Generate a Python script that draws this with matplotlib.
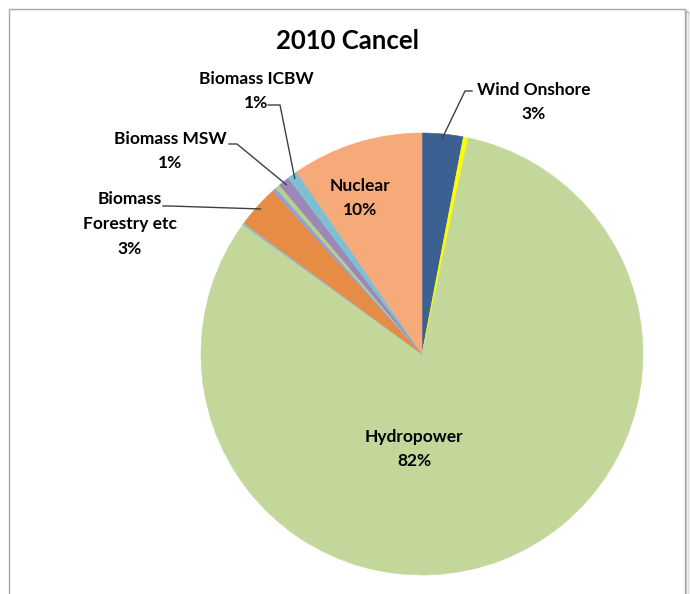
"""
2010 Cancel scenario: electricity generation mix as a pie chart.
"""

# %%
import matplotlib.pyplot as plt
from matplotlib.patches import Rectangle
import numpy as np


# %% generation shares (%), clockwise from 12 o'clock
sources = ['Wind Onshore', 'Solar PV', 'Hydropower', 'Wave & Tidal',
           'Biomass Forestry etc', 'Landfill Gas', 'Sewage Gas',
           'Biomass MSW', 'Biomass ICBW', 'Nuclear']
shares = [3.0, 0.35, 81.6, 0.15, 3.1, 0.3, 0.35, 0.8, 0.75, 9.6]
colours = ['#3a6192', '#ffff00', '#c4d79b', '#93b9c8', '#e68c44',
           '#8ea2d6', '#b9cf8e', '#9d87b6', '#7dbfd3', '#f6aa7a']

title = '2010 Cancel'
W, H = 690, 594
cx, cy, R = 422, 240, 221   # pie centre / radius in pixel units (y from bottom)


# %% figure, frame and shadow
fig = plt.figure(figsize=(W / 100, H / 100), dpi=100)
ax = fig.add_axes([0, 0, 1, 1])

for k, a in enumerate([0.30, 0.20, 0.12, 0.06]):
  ax.add_patch(Rectangle((10 + k, -10), 676 + k, 594 - k, facecolor='none',
                         edgecolor='#555555', linewidth=1.0, alpha=a, zorder=0))
ax.add_patch(Rectangle((9, -10), 676, 595, facecolor='white',
                       edgecolor='#a6a6a6', linewidth=1.0, zorder=1))

# %% pie
wedges, _ = ax.pie(shares, colors=colours, startangle=90, counterclock=False,
                   center=(cx, cy), radius=R, frame=True,
                   wedgeprops=dict(linewidth=0.4))
for w, c in zip(wedges, colours):
  w.set_edgecolor(c)
  w.set_zorder(2)
ax.set_xlim(0, W)
ax.set_ylim(0, H)
ax.set_aspect('equal')
ax.axis('off')

font = 'Lato'
ax.text(348, H - 41, title, ha='center', va='center', fontsize=18.5,
        fontweight='bold', family=font, zorder=5)


def edge_point(i, inset=0):
  # point on the rim at the middle of wedge i
  w = wedges[i]
  ang = np.deg2rad((w.theta1 + w.theta2) / 2)
  return cx + (R - inset) * np.cos(ang), cy + (R - inset) * np.sin(ang)


def pct(i):
  return f'{shares[i]:.0f}%'


lab = dict(fontsize=12.5, fontweight='bold', family=font, zorder=5,
           ha='center', va='center', linespacing=1.68)

# inside labels
ax.text(360, H - 198, f'Nuclear\n{pct(9)}', **lab)
ax.text(414, H - 449, f'Hydropower\n{pct(2)}', **lab)

# outside labels with leader lines
callouts = [
  (0, (534, H - 102), f'Wind Onshore\n{pct(0)}', [(472, H - 91), (465, H - 91)]),
  (8, (256, H - 91), f'Biomass ICBW\n{pct(8)}', [(268, H - 105), (280, H - 105)]),
  (7, (170, H - 151), f'Biomass MSW\n{pct(7)}', [(229, H - 144), (237, H - 144)]),
  (4, (130, H - 224), f'Biomass\nForestry etc\n{pct(4)}', [(163, H - 206), (170, H - 206)]),
]
for i, pos, txt, pts in callouts:
  ex, ey = edge_point(i, inset=4)
  xs = [p[0] for p in pts] + [ex]
  ys = [p[1] for p in pts] + [ey]
  ax.plot(xs, ys, color='#404040', linewidth=1.0, zorder=4)
  ax.text(pos[0], pos[1], txt, **lab)

fig.savefig('out.png', dpi=100, facecolor='white')
